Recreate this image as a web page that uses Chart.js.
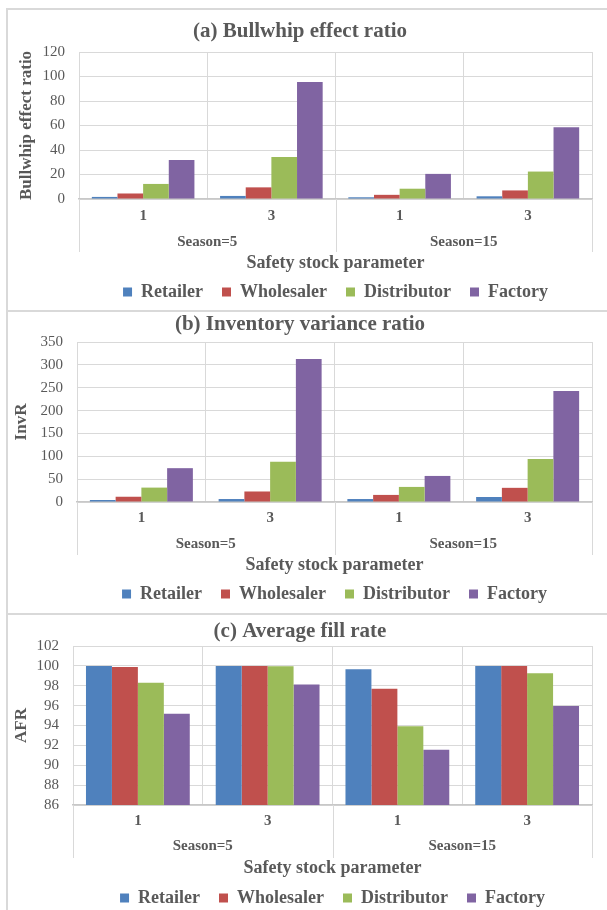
<!DOCTYPE html>
<html><head><meta charset="utf-8">
<script src="https://cdn.jsdelivr.net/npm/chart.js@4"></script>
<style>
html,body{margin:0;padding:0;width:607px;height:910px;overflow:hidden;background:#fff;}
.c{position:absolute;left:0;}
.ln{position:absolute;background:#d9d9d9;}
</style></head><body>
<div class="ln" style="left:6px;top:8px;width:2px;height:902px"></div>
<div class="ln" style="left:6px;top:8px;width:601px;height:2px"></div>
<div class="ln" style="left:6px;top:310px;width:601px;height:2px"></div>
<div class="ln" style="left:6px;top:613px;width:601px;height:2px"></div>
<canvas id="c1" class="c" width="607" height="312" style="top:0px"></canvas>
<canvas id="c2" class="c" width="607" height="306" style="top:308px"></canvas>
<canvas id="c3" class="c" width="607" height="308" style="top:610px"></canvas>
<script>
const categories = ['1', '3', '1', '3'];
const seasonGroups = ['Season=5', 'Season=15'];
const seriesNames = ['Retailer', 'Wholesaler', 'Distributor', 'Factory'];
const seriesColors = ['#4f81bd', '#c0504d', '#9bbb59', '#8064a2'];

const bwRetailer = [1.7, 2.5, 1.4, 2.2];
const bwWholesaler = [4.5, 9.5, 3.4, 7.0];
const bwDistributor = [12.3, 34.3, 8.4, 22.4];
const bwFactory = [31.8, 95.5, 20.5, 58.5];
const bwTicks = [0, 120, 20];

const invRetailer = [4.4, 6.5, 6.5, 11];
const invWholesaler = [11.5, 23, 15.5, 31];
const invDistributor = [31.5, 88, 33, 94];
const invFactory = [74, 313, 57, 243];
const invTicks = [0, 350, 50];

const afrRetailer = [100, 100, 99.65, 100];
const afrWholesaler = [99.88, 100, 97.71, 100];
const afrDistributor = [98.29, 99.95, 93.93, 99.27];
const afrFactory = [95.19, 98.12, 91.55, 95.97];
const afrTicks = [86, 102, 2];

const FF = '"Liberation Serif", "Times New Roman", serif';
const TXT = '#595959';
const GRID = '#d9d9d9';

const separatorPlugin = {
  id: 'groupSeparators',
  afterDraw(chart) {
    const xs = chart.scales.x, x2 = chart.scales.x2;
    const half = (xs.getPixelForValue(1) - xs.getPixelForValue(0)) / 2;
    const pts = [xs.getPixelForValue(0) - half, (xs.getPixelForValue(1) + xs.getPixelForValue(2)) / 2, xs.getPixelForValue(3) + half];
    const ctx = chart.ctx;
    ctx.save();
    ctx.strokeStyle = GRID;
    ctx.lineWidth = 1;
    pts.forEach(p => {
      const px = Math.round(p) + 0.5;
      ctx.beginPath();
      ctx.moveTo(px, chart.chartArea.bottom);
      ctx.lineTo(px, x2.top + 24);
      ctx.stroke();
    });
    ctx.restore();
  }
};

function makeChart(id, o) {
  return new Chart(document.getElementById(id), {
    type: 'bar',
    data: {
      labels: categories,
      datasets: o.series.map((d, i) => ({
        label: seriesNames[i], data: d, backgroundColor: seriesColors[i],
        borderWidth: 0, categoryPercentage: 0.8, barPercentage: 1.0,
        xAxisID: 'x', yAxisID: 'y'
      }))
    },
    options: {
      responsive: false, animation: false,
      layout: { padding: { left: 8, right: 15, top: 0, bottom: 1 } },
      plugins: {
        title: { display: true, text: o.title, color: TXT, font: { family: FF, size: 21, weight: 'bold' }, padding: { top: o.titlePad[0], bottom: o.titlePad[1] } },
        legend: { position: 'bottom', fullSize: false, labels: { boxWidth: 9, boxHeight: 9, padding: 19, color: TXT, font: { family: FF, size: 18, weight: 'bold' } } },
        tooltip: { enabled: false }
      },
      scales: {
        x: {
          type: 'category', position: 'bottom', weight: 1, offset: true,
          grid: { offset: true, color: GRID, drawTicks: false },
          border: { color: '#c8c8c8', width: 1.5 },
          ticks: { color: TXT, font: { family: FF, size: 15, weight: 'bold' }, padding: o.xPad, maxRotation: 0, autoSkip: false },
          afterFit: s => { s.height = 29; }
        },
        x2: {
          type: 'category', labels: seasonGroups, position: 'bottom', weight: 2, offset: true,
          grid: { display: false, drawTicks: false }, border: { display: false },
          ticks: { color: TXT, font: { family: FF, size: 15, weight: 'bold' }, padding: o.x2Pad, maxRotation: 0, autoSkip: false },
          title: { display: true, text: 'Safety stock parameter', color: TXT, font: { family: FF, size: 18, weight: 'bold' }, padding: { top: 0, bottom: o.axisTitlePad } },
          afterFit: s => { s.height = o.x2H; }
        },
        y: {
          min: o.ticks[0], max: o.ticks[1],
          ticks: { stepSize: o.ticks[2], color: TXT, font: { family: FF, size: 15 }, padding: 14, autoSkip: false },
          grid: { color: GRID, drawTicks: false },
          border: { display: false },
          title: { display: true, text: o.yTitle, color: TXT, font: { family: FF, size: 17, weight: 'bold' }, padding: { top: o.yTitlePad, bottom: 0 } },
          afterFit: s => { s.width = o.yW; }
        }
      }
    },
    plugins: [separatorPlugin]
  });
}

makeChart('c1', {
  title: '(a) Bullwhip effect ratio', yTitle: 'Bullwhip effect ratio',
  series: [bwRetailer, bwWholesaler, bwDistributor, bwFactory], ticks: bwTicks,
  titlePad: [19.4, 7.4], xPad: 8, x2Pad: 5, x2H: 36, axisTitlePad: -9.8, yW: 71, yTitlePad: 8.8
});
makeChart('c2', {
  title: '(b) Inventory variance ratio', yTitle: 'InvR',
  series: [invRetailer, invWholesaler, invDistributor, invFactory], ticks: invTicks,
  titlePad: [4.4, 4.4], xPad: 7, x2Pad: 4, x2H: 35, axisTitlePad: -9.8, yW: 69, yTitlePad: 3.8
});
makeChart('c3', {
  title: '(c) Average fill rate', yTitle: 'AFR',
  series: [afrRetailer, afrWholesaler, afrDistributor, afrFactory], ticks: afrTicks,
  titlePad: [9.4, 1.4], xPad: 7, x2Pad: 3, x2H: 36, axisTitlePad: -8.8, yW: 65, yTitlePad: 3.8
});
</script>
</body></html>
